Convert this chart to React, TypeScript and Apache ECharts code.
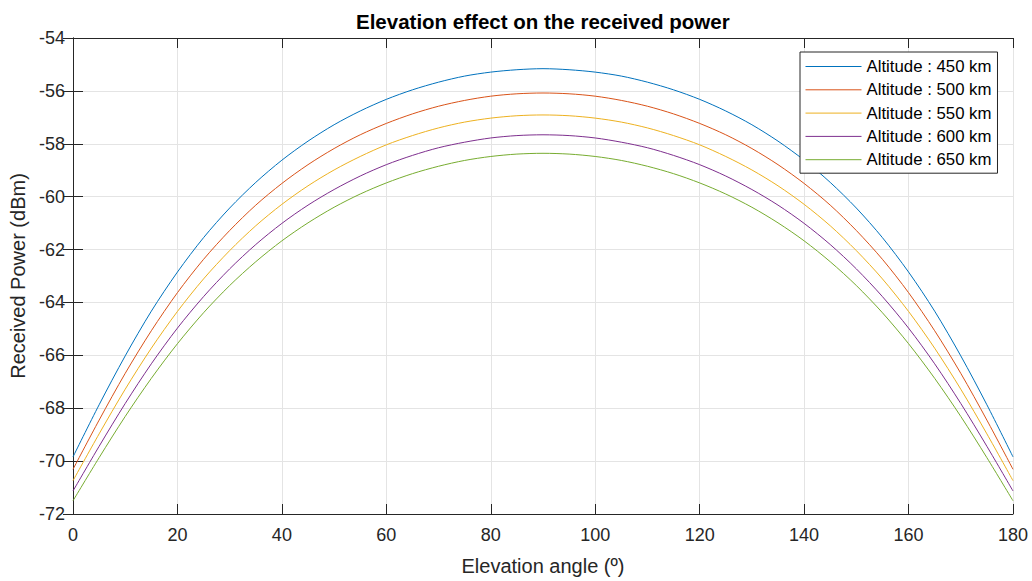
import React, { useEffect, useRef } from "react";
import * as echarts from "echarts";

const angles = [0, 5, 10, 15, 20, 25, 30, 35, 40, 45, 50, 55, 60, 65, 70, 75, 80, 85, 90, 95, 100, 105, 110, 115, 120, 125, 130, 135, 140, 145, 150, 155, 160, 165, 170, 175, 180];

const alt450 = [-69.84, -67.87, -66.02, -64.33, -62.85, -61.55, -60.43, -59.46, -58.62, -57.90, -57.28, -56.76, -56.32, -55.96, -55.67, -55.44, -55.29, -55.20, -55.16, -55.20, -55.29, -55.44, -55.67, -55.96, -56.32, -56.76, -57.28, -57.90, -58.62, -59.46, -60.43, -61.55, -62.85, -64.33, -66.02, -67.87, -69.84];
const alt500 = [-70.31, -68.45, -66.68, -65.07, -63.63, -62.37, -61.28, -60.32, -59.50, -58.79, -58.18, -57.66, -57.23, -56.87, -56.58, -56.36, -56.20, -56.11, -56.08, -56.11, -56.20, -56.36, -56.58, -56.87, -57.23, -57.66, -58.18, -58.79, -59.50, -60.32, -61.28, -62.37, -63.63, -65.07, -66.68, -68.45, -70.31];
const alt550 = [-70.74, -68.97, -67.28, -65.73, -64.34, -63.11, -62.04, -61.10, -60.29, -59.59, -58.99, -58.48, -58.04, -57.69, -57.40, -57.18, -57.03, -56.94, -56.91, -56.94, -57.03, -57.18, -57.40, -57.69, -58.04, -58.48, -58.99, -59.59, -60.29, -61.10, -62.04, -63.11, -64.34, -65.73, -67.28, -68.97, -70.74];
const alt600 = [-71.13, -69.44, -67.82, -66.32, -64.97, -63.78, -62.73, -61.81, -61.01, -60.32, -59.73, -59.22, -58.79, -58.44, -58.15, -57.94, -57.78, -57.69, -57.66, -57.69, -57.78, -57.94, -58.15, -58.44, -58.79, -59.22, -59.73, -60.32, -61.01, -61.81, -62.73, -63.78, -64.97, -66.32, -67.82, -69.44, -71.13];
const alt650 = [-71.50, -69.87, -68.31, -66.87, -65.56, -64.39, -63.36, -62.46, -61.67, -60.99, -60.40, -59.90, -59.48, -59.13, -58.85, -58.63, -58.48, -58.39, -58.36, -58.39, -58.48, -58.63, -58.85, -59.13, -59.48, -59.90, -60.40, -60.99, -61.67, -62.46, -63.36, -64.39, -65.56, -66.87, -68.31, -69.87, -71.50];

const seriesNames = ["Altitude : 450 km", "Altitude : 500 km", "Altitude : 550 km", "Altitude : 600 km", "Altitude : 650 km"];
const seriesValues = [alt450, alt500, alt550, alt600, alt650];
const colors = ["#0072BD", "#D95319", "#EDB120", "#7E2F8E", "#77AC30"];

const title = "Elevation effect on the received power";
const xName = "Elevation angle (º)";
const yName = "Received Power (dBm)";

const FONT = "'Liberation Sans', Arial, Helvetica, sans-serif";
const AXIS_COLOR = "#262626";
const GRID_COLOR = "#e4e4e4";

export default function App() {
  const ref = useRef<HTMLDivElement>(null);

  useEffect(() => {
    if (!ref.current) return;
    const chart = echarts.init(ref.current, undefined, { renderer: "svg" });

    const axisLine = { show: true, lineStyle: { color: AXIS_COLOR, width: 1 } };
    const axisTick = { show: true, inside: true, length: 10, lineStyle: { color: AXIS_COLOR, width: 1 } };

    chart.setOption({
      animation: false,
      backgroundColor: "#ffffff",
      color: colors,
      textStyle: { fontFamily: FONT },
      title: {
        text: title,
        left: 356,
        top: 11,
        padding: 0,
        textStyle: { fontFamily: FONT, fontSize: 20.5, fontWeight: "bold", color: "#000000" },
      },
      grid: { left: 73, right: 19, top: 38, bottom: 61, containLabel: false },
      legend: {
        orient: "vertical",
        left: 800,
        top: 52,
        itemWidth: 56,
        itemHeight: 14,
        itemGap: 6.3,
        itemTextGap: 6,
        padding: [6, 6, 5, 5],
        backgroundColor: "#ffffff",
        borderColor: AXIS_COLOR,
        borderWidth: 1,
        borderRadius: 0,
        itemStyle: { color: "transparent", borderWidth: 0, opacity: 0 },
        lineStyle: { width: 1 },
        textStyle: { fontFamily: FONT, fontSize: 16.8, color: "#000000" },
        data: seriesNames,
      },
      xAxis: [
        {
          type: "value",
          min: 0,
          max: 180,
          interval: 20,
          position: "bottom",
          axisLine,
          axisTick,
          axisLabel: { fontFamily: FONT, fontSize: 18, color: AXIS_COLOR, margin: 12 },
          splitLine: { show: true, lineStyle: { color: GRID_COLOR, width: 1 } },
          name: xName,
          nameLocation: "middle",
          nameGap: 42,
          nameTextStyle: { fontFamily: FONT, fontSize: 20, color: AXIS_COLOR },
        },
        {
          type: "value",
          min: 0,
          max: 180,
          interval: 20,
          position: "top",
          axisLine,
          axisTick,
          axisLabel: { show: false },
          splitLine: { show: false },
        },
      ],
      yAxis: [
        {
          type: "value",
          min: -72,
          max: -54,
          interval: 2,
          position: "left",
          axisLine,
          axisTick,
          axisLabel: { fontFamily: FONT, fontSize: 18, color: AXIS_COLOR, margin: 8 },
          splitLine: { show: true, lineStyle: { color: GRID_COLOR, width: 1 } },
          name: yName,
          nameLocation: "middle",
          nameGap: 40,
          nameTextStyle: { fontFamily: FONT, fontSize: 20, color: AXIS_COLOR },
        },
        {
          type: "value",
          min: -72,
          max: -54,
          interval: 2,
          position: "right",
          axisLine,
          axisTick,
          axisLabel: { show: false },
          splitLine: { show: false },
        },
      ],
      series: seriesNames.map((name, i) => ({
        name,
        type: "line",
        xAxisIndex: 0,
        yAxisIndex: 0,
        symbol: "none",
        showSymbol: false,
        smooth: 0.3,
        lineStyle: { color: colors[i], width: 1 },
        itemStyle: { color: colors[i] },
        data: angles.map((a, j) => [a, seriesValues[i][j]]),
      })),
    });

    return () => chart.dispose();
  }, []);

  return (
    <div
      ref={ref}
      style={{ position: "fixed", left: 0, top: 0, width: "1032px", height: "581px", background: "#ffffff" }}
    />
  );
}
